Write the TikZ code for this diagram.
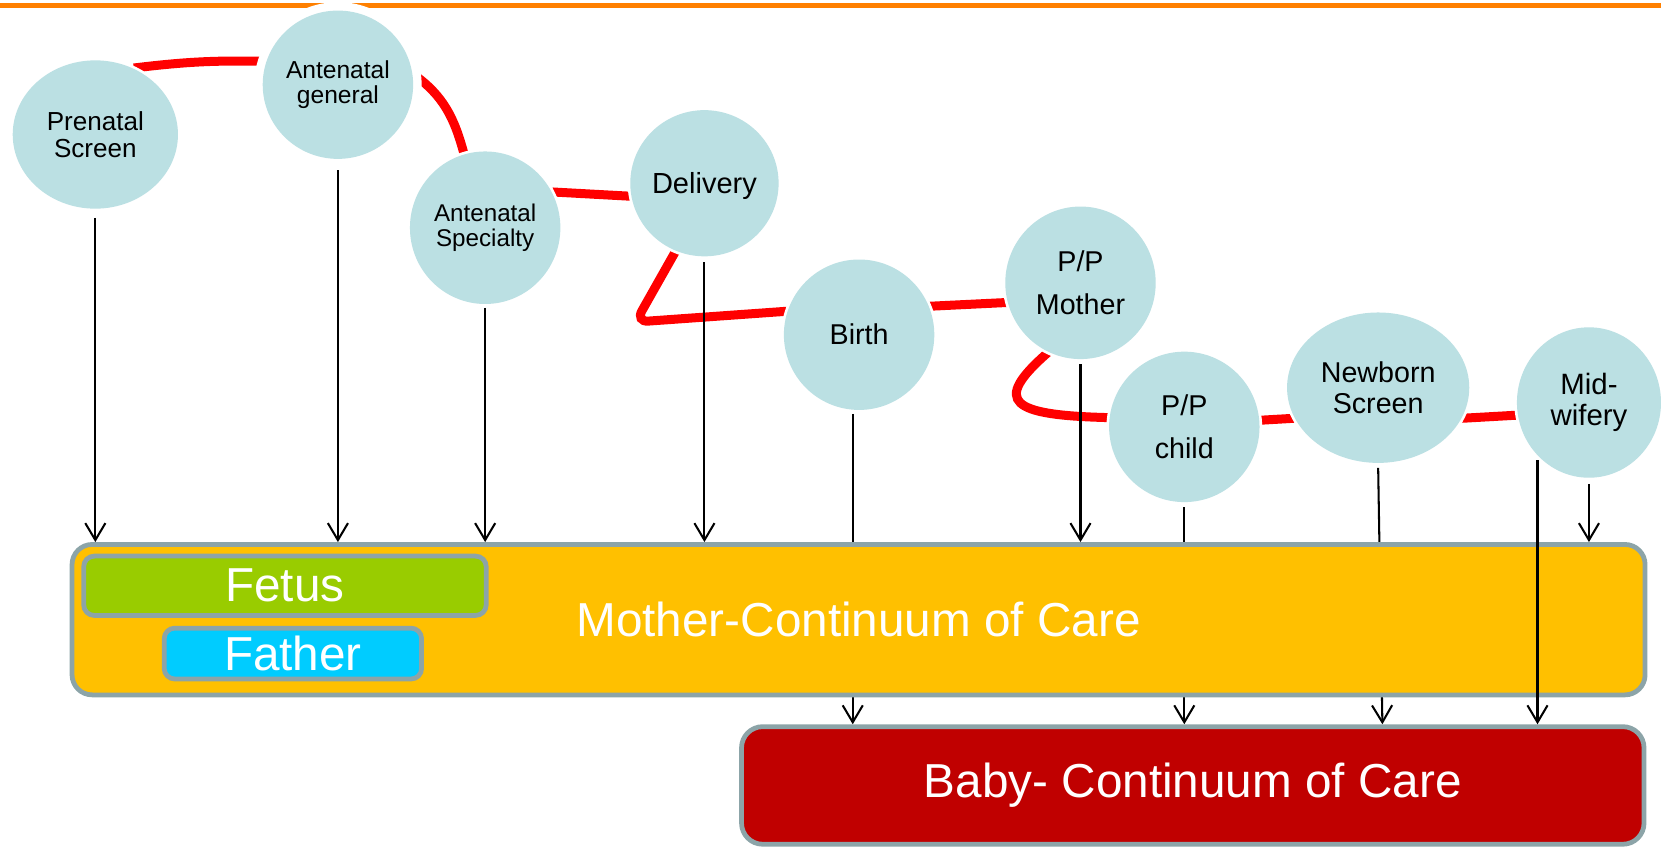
\documentclass[tikz,border=0pt]{standalone}
\usepackage{fontspec}
\setmainfont{Liberation Sans}
\usetikzlibrary{shapes.geometric,arrows.meta,backgrounds}
\definecolor{stagefill}{RGB}{187,224,227}
\definecolor{boxline}{RGB}{140,164,168}
\definecolor{motherfill}{RGB}{255,192,0}
\definecolor{fetusfill}{RGB}{153,204,0}
\definecolor{fatherfill}{RGB}{0,204,255}
\definecolor{babyfill}{RGB}{192,0,0}
\definecolor{rulecolor}{RGB}{255,128,0}

\begin{document}
\begin{tikzpicture}[x=0.1mm,y=0.1mm,
        stage/.style={ellipse,fill=stagefill,preaction={draw=white,line width=0.5mm},
            inner sep=0pt,align=center,font=\fontsize{7.7}{8.5}\selectfont},
        care/.style={rectangle,draw=boxline,line width=0.45mm,inner sep=0pt,
            text=white,font=\fontsize{12.8}{15}\selectfont},
        arr/.style={-{Straight Barb[length=1.6mm,width=1.9mm]},line width=0.55pt},
        redline/.style={red,line width=0.85mm}]
        \useasboundingbox (0,0) rectangle (1568,800);

        \draw[rulecolor,line width=0.45mm] (0,795) -- (1568,795);

        \node[stage,minimum width=15.6mm,minimum height=14mm,font=\fontsize{7}{7.4}\selectfont] (pre) at (90,673) {Prenatal\\Screen};
        \node[stage,minimum width=14.2mm,minimum height=14mm,font=\fontsize{6.6}{6.8}\selectfont,
            preaction={draw=white,line width=1.6mm}] (gen) at (319,720) {Antenatal\\general};
        \node[stage,minimum width=14.2mm,minimum height=14.4mm,font=\fontsize{6.5}{6.8}\selectfont] (spec) at (458,585) {Antenatal\\Specialty};
        \node[stage,minimum width=14mm,minimum height=13.8mm,font=\fontsize{7.8}{9}\selectfont,text depth=0pt] (deliv) at (665,627) {Delivery};
        \node[stage,minimum width=14.2mm,minimum height=14.2mm] (birth) at (811,484) {Birth};
        \node[stage,minimum width=14.2mm,minimum height=14.4mm,font=\fontsize{7.7}{11.4}\selectfont] (ppm) at (1020,533) {P/P\\Mother};
        \node[stage,minimum width=14.2mm,minimum height=14.2mm,font=\fontsize{7.7}{11.7}\selectfont] (ppc) at (1118,397) {P/P\\child};
        \node[stage,minimum width=17.2mm,minimum height=14.2mm] (newb) at (1301,434) {Newborn\\Screen};
        \node[stage,minimum width=13.6mm,minimum height=14.2mm,font=\fontsize{7.9}{8.3}\selectfont] (mid) at (1500,420) {Mid-\\wifery};

        \node[care,fill=motherfill,rounded corners=1.9mm,minimum width=148.5mm,minimum height=14.2mm] (mother) at (810.5,215) {Mother-Continuum of Care};
        \node[care,fill=fetusfill,rounded corners=1mm,minimum width=38mm,minimum height=5.6mm] (fetus) at (269,247) {Fetus};
        \node[care,fill=fatherfill,rounded corners=1mm,minimum width=24.3mm,minimum height=4.8mm] (father) at (276.5,183) {Father};
        \node[care,fill=babyfill,rounded corners=2mm,minimum width=85.2mm,minimum height=11.1mm] (baby) at (1126,58.5) {Baby- Continuum of Care};

        \begin{pgfonlayer}{background}
            \draw[redline] (pre.60) to[bend left=4] (gen.162);
            \draw[redline] (gen.8) to[out=-35,in=105] (spec.106);
            \draw[redline] (spec.28) -- (deliv.190);
            \draw[redline,rounded corners=1.2mm] (deliv.247) -- (600,496) -- (birth.162);
            \draw[redline] (birth.22) -- (ppm.195);
            \draw[redline] (ppm.245) .. controls (935,420) and (955,408) .. (ppc.173);
            \draw[redline] (ppc.5) -- (newb.200);
            \draw[redline] (newb.340) -- (mid.190);

            \draw[arr] ([xshift=-0.6mm,yshift=-0.3mm]birth.south) -- ([xshift=-0.6mm]birth.south |- baby.north);
            \draw[arr] ([yshift=-0.4mm]ppc.south) -- (ppc.south |- baby.north);
            \draw[arr] ([yshift=-0.4mm]newb.south) -- ([xshift=0.4mm]newb.south |- baby.north);
        \end{pgfonlayer}

        \draw[arr] ([yshift=-0.8mm]pre.south) -- (pre.south |- mother.north);
        \draw[arr] ([yshift=-1mm]gen.south) -- (gen.south |- mother.north);
        \draw[arr] ([yshift=-0.3mm]spec.south) -- (spec.south |- mother.north);
        \draw[arr] ([yshift=-0.5mm]deliv.south) -- (deliv.south |- mother.north);
        \draw[arr] ([yshift=-0.4mm]ppm.south) -- (ppm.south |- mother.north);
        \draw[arr] ([yshift=-0.5mm]mid.south) -- (mid.south |- mother.north);
        \draw[arr] ([yshift=-0.4mm]mid.south west) -- (mid.south west |- baby.north);
    \end{tikzpicture}
\end{document}
